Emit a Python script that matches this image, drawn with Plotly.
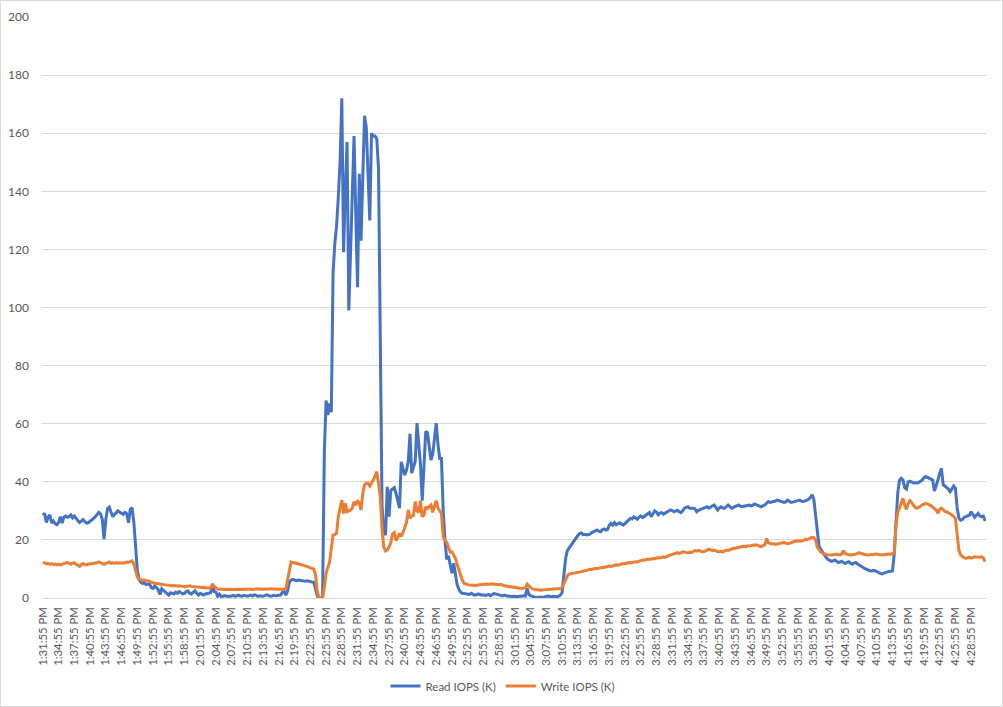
import plotly.graph_objects as go
from datetime import datetime, timedelta

# ---- Categories: samples every 20 s starting 1:31:55 PM (540 samples) ----
start = datetime(2000, 1, 1, 13, 31, 55)
categories = []
for i in range(540):
    t = start + timedelta(seconds=20 * i)
    h = t.hour % 12 or 12
    categories.append(f"{h}:{t.minute:02d}:{t.second:02d} PM")
tick_labels = categories[::9]

# ---- Read IOPS (K), one row per 3-minute tick interval (9 samples) ----
read_iops = [
    28.5, 29.2, 26.0, 27.8, 28.6, 25.8, 26.5, 25.6, 25.2,
    26.0, 28.0, 25.8, 27.8, 28.2, 27.8, 28.0, 28.6, 27.6,
    28.2, 27.2, 26.7, 26.0, 26.5, 27.0, 26.3, 25.8, 25.9,
    26.3, 26.8, 27.4, 28.0, 29.0, 29.5, 29.0, 27.0, 20.3,
    27.0, 30.8, 31.3, 29.5, 28.0, 28.8, 29.6, 30.0, 29.5,
    29.1, 28.8, 29.5, 29.0, 25.9, 30.5, 31.1, 26.3, 18.2,
    9.5, 6.5, 5.4, 5.0, 5.3, 4.6, 4.8, 4.9, 3.6,
    3.3, 4.2, 3.6, 2.8, 1.2, 3.2, 2.6, 2.0, 1.4,
    1.0, 1.8, 1.6, 1.4, 2.0, 1.6, 2.2, 1.8, 1.4,
    1.6, 2.2, 2.4, 1.6, 1.4, 2.0, 2.5, 1.6, 1.0,
    1.6, 1.2, 1.0, 1.4, 1.5, 1.6, 1.8, 4.9, 2.2,
    2.0, 0.6, 1.3, 0.5, 0.6, 0.8, 0.6, 0.5, 0.6,
    0.7, 0.9, 0.6, 0.8, 1.0, 0.7, 0.6, 0.9, 0.8,
    0.6, 0.8, 1.0, 0.7, 1.1, 0.9, 0.6, 0.8, 0.7,
    0.6, 0.8, 1.1, 0.9, 0.6, 0.7, 0.9, 0.8, 0.9,
    0.9, 1.0, 2.0, 2.2, 1.0, 2.5, 5.5, 6.2, 6.4,
    6.3, 6.0, 6.2, 6.1, 5.9, 6.0, 5.8, 5.9, 5.7,
    5.6, 5.5, 5.4, 3.0, 0.6, 0.0, 0.0, 0.2, 50.0,
    68.0, 63.0, 67.0, 64.0, 112.0, 122.0, 128.0, 138.0, 150.0,
    172.0, 119.0, 140.0, 157.0, 99.0, 122.0, 142.0, 159.0, 132.0,
    107.0, 146.0, 123.0, 145.0, 166.0, 162.0, 146.0, 130.0, 160.0,
    159.0, 159.0, 158.0, 148.0, 85.0, 32.0, 22.5, 21.7, 38.3,
    28.0, 37.0, 37.5, 38.0, 36.0, 33.0, 30.9, 46.9, 44.0,
    42.3, 44.0, 47.0, 56.5, 43.0, 45.0, 47.0, 60.2, 53.0,
    46.0, 33.5, 45.0, 57.3, 56.9, 52.0, 47.5, 49.5, 55.0,
    60.2, 53.0, 48.0, 48.0, 30.0, 20.0, 13.3, 14.5, 11.5,
    8.5, 12.0, 8.0, 4.5, 3.0, 2.0, 1.6, 1.5, 1.4,
    1.4, 1.2, 1.6, 1.3, 1.0, 1.1, 1.4, 1.2, 1.0,
    1.1, 0.9, 1.0, 1.2, 0.8, 1.3, 1.5, 1.4, 1.2,
    1.0, 0.9, 0.7, 1.0, 0.8, 0.6, 0.7, 0.5, 0.6,
    0.5, 0.6, 0.5, 0.7, 0.6, 0.8, 0.7, 3.3, 1.2,
    0.8, 0.5, 0.4, 0.2, 0.3, 0.2, 0.3, 0.2, 0.3,
    0.6, 0.7, 0.5, 0.4, 0.6, 0.5, 0.4, 0.6, 1.0,
    1.8, 8.0, 13.5, 16.3, 17.2, 17.8, 19.0, 20.0, 20.8,
    21.5, 22.2, 22.4, 21.8, 21.9, 21.7, 21.9, 22.0, 22.5,
    22.8, 23.2, 23.4, 23.0, 22.8, 23.5, 23.8, 23.4, 23.6,
    25.0, 25.7, 25.1, 26.0, 25.2, 25.5, 25.9, 25.4, 25.1,
    25.6, 26.3, 26.8, 27.4, 27.2, 27.9, 27.5, 27.1, 27.8,
    28.2, 27.7, 28.0, 28.6, 28.9, 29.4, 28.0, 28.8, 30.0,
    29.6, 28.6, 29.2, 29.4, 28.9, 29.3, 29.7, 30.0, 30.3,
    30.1, 29.7, 30.0, 30.2, 29.7, 29.4, 30.0, 30.9, 31.2,
    31.4, 30.9, 31.0, 30.9, 30.7, 29.7, 30.2, 30.5, 30.7,
    30.9, 31.2, 31.4, 30.9, 31.3, 31.6, 32.0, 31.2, 30.3,
    31.0, 31.4, 31.0, 30.9, 31.5, 32.0, 31.5, 30.9, 31.2,
    31.4, 31.8, 32.0, 31.6, 31.4, 31.6, 31.7, 31.9, 32.0,
    31.7, 31.9, 32.4, 32.2, 32.0, 31.7, 31.4, 31.8, 32.0,
    32.6, 33.2, 32.9, 33.0, 33.2, 33.4, 33.7, 33.5, 33.2,
    33.0, 32.9, 33.1, 33.7, 33.3, 32.9, 33.0, 33.2, 33.2,
    33.6, 33.7, 33.3, 33.2, 33.4, 33.6, 34.0, 34.6, 35.5,
    34.0, 29.0, 22.0, 17.8, 16.8, 15.8, 14.5, 14.0, 13.3,
    13.0, 12.6, 12.8, 13.1, 12.7, 12.2, 12.4, 12.6, 12.2,
    11.9, 12.3, 12.5, 11.9, 11.7, 12.0, 12.2, 11.7, 11.4,
    10.9, 10.6, 10.2, 9.9, 9.6, 9.4, 9.3, 9.5, 9.4,
    9.0, 8.7, 8.5, 8.3, 8.6, 8.9, 9.0, 9.1, 9.1,
    9.3, 15.0, 27.0, 36.0, 40.5, 41.2, 40.6, 38.0, 37.5,
    40.0, 40.2, 39.9, 39.6, 39.7, 39.5, 39.8, 40.2, 40.6,
    41.4, 41.8, 41.5, 41.2, 40.8, 40.6, 36.8, 38.5, 40.6,
    43.0, 44.6, 39.0, 38.5, 38.3, 37.5, 36.6, 37.8, 38.6,
    37.8, 31.0, 27.5, 26.8, 27.0, 27.8, 28.0, 28.2, 28.5,
    29.7, 28.8, 27.8, 28.5, 29.1, 28.2, 28.0, 28.2, 26.5,
]

# ---- Write IOPS (K) ----
write_iops = [
    12.3, 12.0, 11.8, 11.9, 11.6, 11.8, 11.5, 11.7, 11.4,
    11.6, 11.4, 11.6, 11.9, 12.1, 12.2, 11.9, 11.7, 12.0,
    12.1, 11.6, 11.3, 10.9, 11.5, 11.8, 11.6, 11.4, 11.6,
    11.7, 11.7, 11.8, 11.9, 12.1, 12.4, 12.2, 11.9, 11.6,
    11.9, 12.2, 12.4, 11.9, 12.1, 12.0, 12.2, 12.0, 12.1,
    12.1, 12.0, 12.2, 12.4, 12.3, 12.6, 12.8, 11.8, 9.3,
    7.3, 6.4, 6.2, 6.1, 6.2, 5.9, 5.9, 5.7, 5.5,
    5.2, 5.0, 5.1, 4.9, 4.8, 4.7, 4.6, 4.5, 4.6,
    4.4, 4.3, 4.2, 4.3, 4.1, 4.1, 4.2, 4.0, 4.0,
    3.9, 4.0, 4.1, 4.2, 4.0, 3.9, 3.8, 3.9, 3.7,
    3.6, 3.6, 3.7, 3.5, 3.4, 3.4, 3.5, 4.4, 3.9,
    3.3, 3.1, 3.0, 3.1, 2.9, 3.0, 3.0, 2.9, 3.0,
    3.0, 2.9, 3.0, 3.1, 3.0, 2.9, 3.0, 3.1, 3.0,
    3.0, 3.1, 3.0, 2.9, 3.0, 3.1, 3.2, 3.0, 3.1,
    3.0, 3.1, 3.1, 3.0, 3.2, 3.1, 3.0, 3.1, 3.0,
    3.1, 3.0, 3.1, 3.0, 3.2, 6.5, 10.5, 12.4, 12.2,
    12.0, 11.9, 11.7, 11.6, 11.5, 11.3, 11.1, 11.0, 10.8,
    10.4, 10.2, 9.9, 8.0, 2.0, 0.0, 0.0, 0.0, 3.5,
    8.5, 10.5, 12.3, 17.0, 21.7, 21.8, 22.3, 28.0, 31.0,
    33.7, 29.1, 32.6, 29.7, 30.0, 30.3, 31.0, 33.2, 32.0,
    33.3, 32.8, 30.3, 36.0, 39.0, 39.5, 39.5, 38.5, 39.5,
    40.6, 42.0, 43.5, 39.5, 35.0, 24.0, 17.5, 16.2, 16.5,
    17.5, 19.0, 22.0, 22.5, 19.8, 20.8, 22.3, 21.2, 22.5,
    24.5, 26.0, 30.3, 27.5, 28.2, 28.5, 33.2, 30.0, 29.5,
    33.5, 28.0, 28.5, 31.4, 30.8, 31.5, 32.0, 29.5, 31.5,
    33.5, 31.0, 30.0, 29.0, 21.0, 19.8, 19.2, 17.5, 15.8,
    15.9, 14.8, 13.7, 11.5, 9.6, 7.5, 6.0, 5.0, 4.7,
    4.6, 4.5, 4.4, 4.5, 4.4, 4.3, 4.5, 4.6, 4.5,
    4.6, 4.7, 4.8, 4.7, 4.8, 4.9, 4.7, 4.6, 4.7,
    4.6, 4.7, 4.4, 4.2, 4.1, 4.0, 3.9, 4.0, 3.9,
    3.6, 3.5, 3.4, 3.5, 3.3, 3.4, 3.5, 4.8, 4.0,
    3.6, 3.2, 2.9, 2.8, 2.8, 2.7, 2.7, 2.8, 2.8,
    2.9, 3.0, 2.9, 3.0, 3.1, 3.1, 3.2, 3.2, 3.3,
    3.5, 5.0, 6.5, 7.6, 8.2, 8.4, 8.5, 8.6, 8.7,
    8.8, 8.9, 9.1, 9.3, 9.3, 9.5, 9.7, 9.9, 9.8,
    10.0, 10.2, 10.1, 10.3, 10.4, 10.6, 10.5, 10.7, 10.9,
    11.0, 10.9, 11.1, 11.3, 11.4, 11.3, 11.6, 11.7, 11.9,
    11.8, 12.0, 12.2, 12.1, 12.3, 12.4, 12.5, 12.4, 12.7,
    12.9, 13.1, 13.0, 13.2, 13.4, 13.3, 13.5, 13.6, 13.5,
    13.7, 13.9, 13.8, 14.1, 14.2, 14.0, 14.4, 14.6, 14.8,
    14.9, 15.2, 15.4, 15.6, 15.3, 15.7, 15.9, 15.8, 15.6,
    15.5, 15.8, 15.6, 16.0, 16.3, 16.1, 16.4, 16.2, 15.9,
    15.9, 16.2, 16.4, 16.8, 16.6, 16.3, 16.5, 16.2, 16.0,
    15.9, 16.1, 15.8, 16.2, 16.5, 16.4, 16.7, 16.9, 17.1,
    17.1, 17.3, 17.5, 17.6, 17.7, 17.8, 17.6, 17.9, 17.9,
    18.0, 18.2, 18.1, 18.3, 18.2, 17.8, 17.7, 18.0, 18.3,
    20.5, 19.0, 18.8, 18.6, 18.7, 18.5, 18.6, 18.8, 19.0,
    19.0, 19.1, 18.9, 18.7, 18.8, 19.0, 19.3, 19.6, 19.7,
    19.6, 19.5, 19.6, 19.8, 20.2, 20.0, 20.3, 20.6, 20.9,
    20.8, 20.0, 17.5, 16.5, 15.8, 15.5, 15.2, 15.0, 14.9,
    14.8, 14.8, 14.9, 15.0, 15.1, 14.9, 14.8, 15.2, 16.3,
    15.3, 15.0, 14.9, 14.8, 14.8, 15.0, 15.1, 15.4, 15.6,
    15.3, 15.1, 15.0, 14.9, 14.8, 14.9, 15.0, 15.1, 15.1,
    15.1, 15.0, 14.9, 14.8, 14.8, 15.0, 15.1, 15.1, 15.0,
    15.3, 15.5, 25.0, 29.5, 31.0, 32.5, 34.3, 32.0, 30.5,
    32.5, 33.5, 32.8, 32.0, 31.2, 30.9, 31.2, 31.6, 32.1,
    32.4, 32.5, 32.4, 32.2, 31.8, 31.3, 30.9, 30.3, 29.2,
    30.5, 30.9, 30.2, 29.8, 29.6, 29.4, 29.0, 28.6, 28.0,
    27.5, 22.0, 16.5, 14.8, 14.2, 13.8, 13.7, 13.9, 14.0,
    13.7, 13.9, 14.2, 14.1, 14.0, 14.0, 14.2, 13.8, 12.5,
]

series_names = ["Read IOPS (K)", "Write IOPS (K)"]
series_colors = ["#4472C4", "#ED7D31"]

W, H = 1003, 707
ML, MR, MT, MB = 42, 17, 17, 109
PW, PH = W - ML - MR, H - MT - MB

fig = go.Figure()
for name, vals, col in zip(series_names, [read_iops, write_iops], series_colors):
    fig.add_trace(go.Scatter(
        x=categories, y=vals, mode="lines", name=name,
        line=dict(color=col, width=3),
    ))

font_family = "Lato, 'Open Sans', sans-serif"
fig.update_layout(
    width=W, height=H,
    margin=dict(l=ML, r=MR, t=MT, b=MB, pad=0, autoexpand=False),
    paper_bgcolor="white", plot_bgcolor="white",
    font=dict(family=font_family, size=12, color="#595959"),
    showlegend=True,
    legend=dict(orientation="h", x=(503 - ML) / PW, xanchor="center",
                y=-(686 - (MT + PH)) / PH, yanchor="middle",
                font=dict(size=11.5, color="#595959"),
                bgcolor="rgba(0,0,0,0)"),
    xaxis=dict(
        type="category", categoryorder="array", categoryarray=categories,
        tickmode="array", tickvals=tick_labels, ticktext=tick_labels,
        tickangle=-90, tickfont=dict(size=11.3, color="#595959"),
        showgrid=False, zeroline=False, showline=False, ticks="",
        range=[-0.5, len(categories) - 0.5],
        ticklabelstandoff=6, automargin=False,
    ),
    yaxis=dict(
        range=[0, 200], dtick=20, tick0=0,
        showgrid=True, gridcolor="#D9D9D9", gridwidth=1,
        zeroline=True, zerolinecolor="#D9D9D9", zerolinewidth=1,
        showline=False, ticks="",
        tickfont=dict(size=12, color="#595959"),
        ticklabelstandoff=12, automargin=False,
    ),
    shapes=[dict(
        type="rect", xref="paper", yref="paper",
        x0=-(ML - 0.5) / PW, x1=(W - 0.5 - ML) / PW,
        y0=-(MB - 0.5) / PH, y1=1 + (MT - 0.5) / PH,
        line=dict(color="#D9D9D9", width=1), fillcolor="rgba(0,0,0,0)",
        layer="below",
    )],
)

# remove the browser's default 8 px body margin so the figure starts at (0, 0)
fig.write_html(
    "out.html",
    config={"displayModeBar": False},
    post_script="document.body.style.margin='0';document.body.style.overflow='hidden';",
)
